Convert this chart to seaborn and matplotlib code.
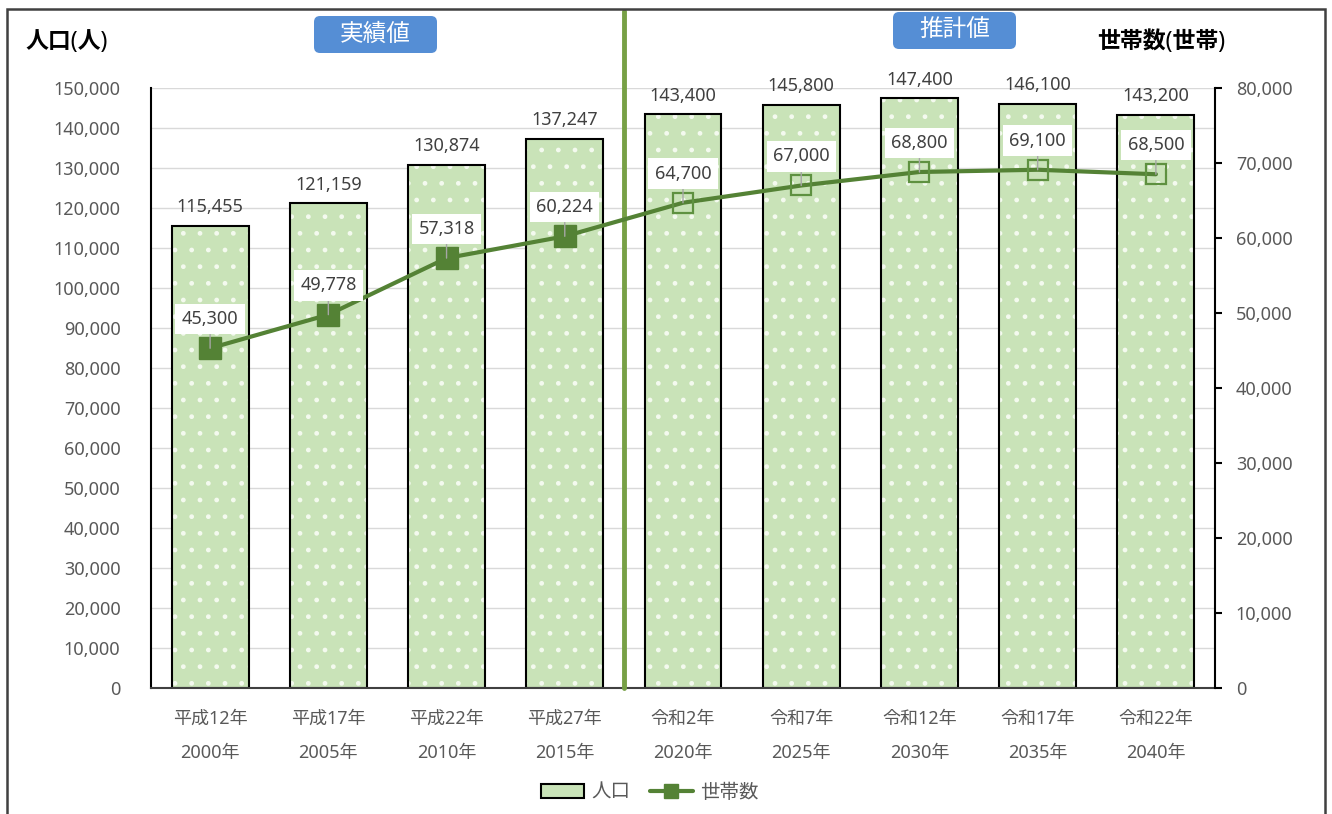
import numpy as np
import pandas as pd
import matplotlib
matplotlib.use("Agg")
import matplotlib.pyplot as plt
import seaborn as sns
from matplotlib.patches import FancyBboxPatch, Patch, Rectangle
from matplotlib.lines import Line2D
from matplotlib.transforms import IdentityTransform

# ---- data ----
era_labels = ["平成12年", "平成17年", "平成22年", "平成27年", "令和2年",
              "令和7年", "令和12年", "令和17年", "令和22年"]
year_labels = ["2000年", "2005年", "2010年", "2015年", "2020年",
               "2025年", "2030年", "2035年", "2040年"]
population = [115455, 121159, 130874, 137247, 143400, 145800, 147400, 146100, 143200]
households = [45300, 49778, 57318, 60224, 64700, 67000, 68800, 69100, 68500]
n_actual = 4  # 実績値 count

categories = [f"{a}\n{b}" for a, b in zip(era_labels, year_labels)]
df = pd.DataFrame({"cat": categories, "pop": population, "hh": households})

sns.set_theme(style="white")
plt.rcParams['font.family'] = ['Noto Sans', 'Noto Sans CJK JP', 'DejaVu Sans']
plt.rcParams['hatch.linewidth'] = 1.0

FS = 13
W, H = 1332, 814
fig = plt.figure(figsize=(W / 100, H / 100), dpi=100)
fig.patch.set_facecolor("white")

ax = fig.add_axes([151 / W, (H - 688) / H, 1064 / W, 600 / H])
ax2 = ax.twinx()

bar_color = "#c9e3b8"
sns.barplot(data=df, x="cat", y="pop", ax=ax, color=bar_color, width=0.65,
            linewidth=0, saturation=1, zorder=2)
xpos = np.arange(len(categories))
# hatch overlay (white dots) and black edges
ax.bar(xpos, df["pop"], width=0.65, fill=False, edgecolor="#f4faef", linewidth=0,
       hatch=".", zorder=2.1)
ax.bar(xpos, df["pop"], width=0.65, fill=False, edgecolor="black", linewidth=1.5,
       zorder=2.2)

ax.set_xlim(-0.5, len(categories) - 0.5)
ax.set_ylim(0, 150000)
ax.set_yticks(np.arange(0, 150001, 10000))
ax.set_yticklabels([f"{v:,}" for v in range(0, 150001, 10000)])
ax.grid(axis="y", color="#d9d9d9", linewidth=1, zorder=0)
ax.set_axisbelow(True)
ax.set_xlabel("")
ax.set_ylabel("")
ax.tick_params(axis="y", length=0, pad=22, labelsize=FS, labelcolor="#595959")
ax.tick_params(axis="x", length=0, pad=16, labelsize=FS, labelcolor="#595959")
for lbl in ax.get_xticklabels():
    lbl.set_linespacing(2.1)
ax.spines["top"].set_visible(False)
ax.spines["left"].set_color("black")
ax.spines["left"].set_linewidth(1.5)
ax.spines["bottom"].set_color("#404040")
ax.spines["bottom"].set_linewidth(1.5)
ax.spines["right"].set_visible(False)

# bar value labels
for x, v in zip(xpos, population):
    ax.annotate(f"{v:,}", (x, v), xytext=(0, 7), textcoords="offset points",
                ha="center", va="bottom", fontsize=FS, color="#404040")

# households line
line_color = "#548235"
sns.lineplot(x=xpos, y=households, ax=ax2, color=line_color, linewidth=3,
             zorder=5, legend=False)
ax2.plot(xpos[:n_actual], households[:n_actual], linestyle="none", marker="s",
         markersize=16, color=line_color, zorder=6)
ax2.plot(xpos[n_actual:], households[n_actual:], linestyle="none", marker="s",
         markersize=15, markerfacecolor="none", markeredgecolor="#5e9140",
         markeredgewidth=1.6, zorder=6)
ax2.set_ylim(0, 80000)
ax2.set_yticks(np.arange(0, 80001, 10000))
ax2.set_yticklabels([f"{v:,}" for v in range(0, 80001, 10000)])
ax2.tick_params(axis="y", direction="out", length=5, width=1.5, color="black",
                pad=10, labelsize=FS, labelcolor="#595959", right=True)
for s in ["top", "left", "bottom"]:
    ax2.spines[s].set_visible(False)
ax2.spines["right"].set_color("black")
ax2.spines["right"].set_linewidth(1.5)
ax2.set_ylabel("")

for x, v in zip(xpos, households):
    ax2.annotate(f"{v:,}", (x, v), xytext=(0, 21), textcoords="offset points",
                 ha="center", va="center", fontsize=FS, color="#404040",
                 bbox=dict(boxstyle="square,pad=0.35", fc="white", ec="none"),
                 arrowprops=dict(arrowstyle="-", color="#a6a6a6", lw=1,
                                 shrinkA=0, shrinkB=0),
                 zorder=7)

# separator line between actual and projection
ax.axvline(n_actual - 0.5, ymin=0, ymax=(688 - 11) / 600, color="#77a045",
           linewidth=3.5, clip_on=False, zorder=3)

# axis titles
fig.text(25 / W, 1 - 42 / H, "人口(人)", fontsize=16.5, fontweight="bold",
         color="black", ha="left", va="center")
fig.text(1097 / W, 1 - 42 / H, "世帯数(世帯)", fontsize=16.5, fontweight="bold",
         color="black", ha="left", va="center")

# blue label boxes
for (x0, ytop, w, h, txt) in [(314, 16, 123, 37, "実績値"), (893, 12, 123, 37, "推計値")]:
    box = FancyBboxPatch((x0, H - ytop - h), w, h,
                         boxstyle="round,pad=0,rounding_size=6",
                         transform=IdentityTransform(), fc="#558ed5", ec="none")
    fig.patches.append(box)
    fig.text((x0 + w / 2) / W, 1 - (ytop + h / 2) / H, txt, fontsize=17,
             color="white", ha="center", va="center")

# outer border
fig.patches.append(Rectangle((7 / W, -0.01), (1325 - 7) / W, (H - 9) / H + 0.01,
                             transform=fig.transFigure, fill=False,
                             edgecolor="#404040", linewidth=1.8))

# legend
handles = [
    Patch(facecolor=bar_color, edgecolor="black", linewidth=1.5, label="人口"),
    Line2D([0], [0], color=line_color, linewidth=3, marker="s", markersize=10,
           label="世帯数"),
]
fig.legend(handles=handles, loc="center", bbox_to_anchor=(650 / W, 1 - 793 / H),
           ncol=2, frameon=False, fontsize=14, labelcolor="#595959",
           handlelength=2.2, handleheight=0.7, columnspacing=1.0, handletextpad=0.4)

fig.savefig("out.png", dpi=100)
